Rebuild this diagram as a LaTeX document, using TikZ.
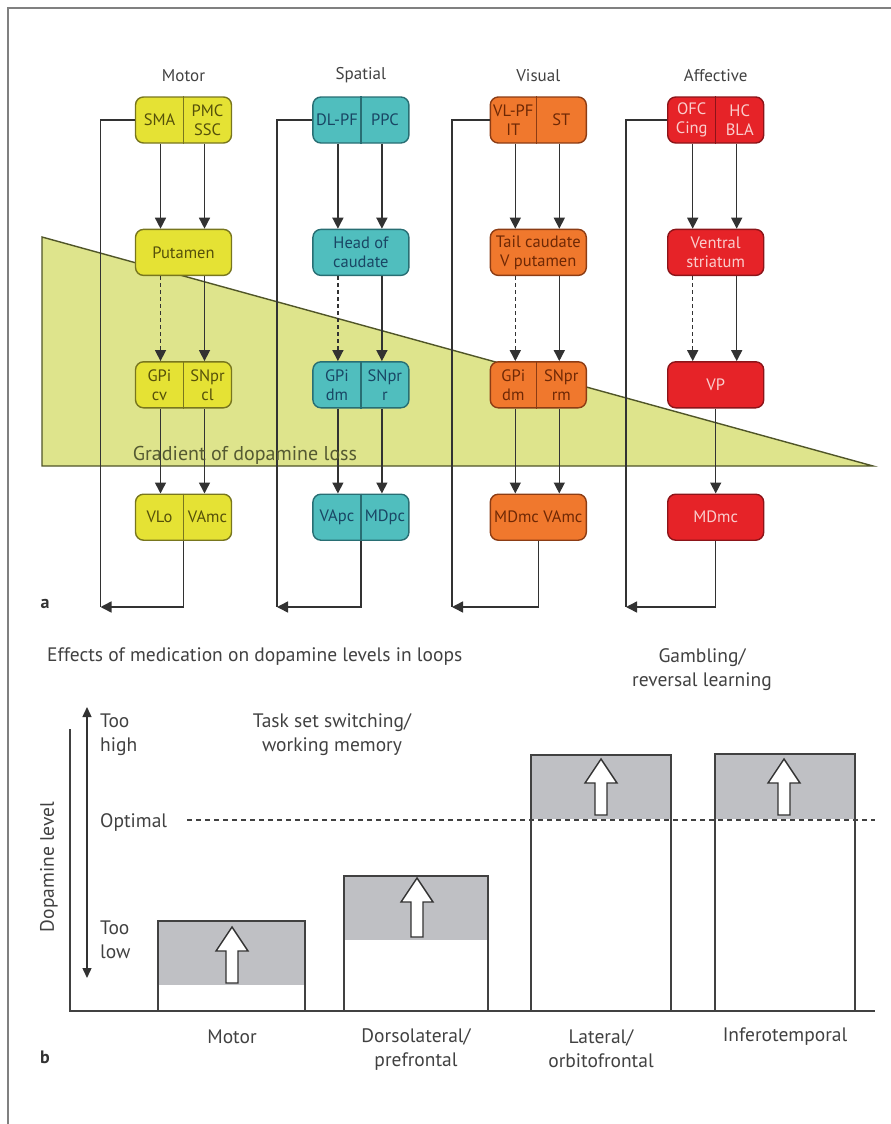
\documentclass[tikz,border=0pt]{standalone}
\usepackage{fontspec}
\setmainfont{PT Sans}
\usepackage{xcolor}
\usepackage{tikz}
\definecolor{motorFill}{RGB}{229, 226, 52}
\definecolor{motorEdge}{RGB}{120, 118, 30}
\definecolor{motorText}{RGB}{85, 80, 10}
\definecolor{spatFill}{RGB}{80, 190, 190}
\definecolor{spatEdge}{RGB}{40, 110, 115}
\definecolor{spatText}{RGB}{25, 70, 100}
\definecolor{visFill}{RGB}{240, 120, 45}
\definecolor{visEdge}{RGB}{140, 60, 20}
\definecolor{visText}{RGB}{110, 40, 5}
\definecolor{affFill}{RGB}{230, 35, 40}
\definecolor{affEdge}{RGB}{140, 20, 25}
\definecolor{affText}{RGB}{250, 205, 205}
\definecolor{gradFill}{RGB}{222, 228, 140}
\definecolor{gradEdge}{RGB}{80, 85, 40}
\definecolor{gradText}{RGB}{85, 90, 50}
\definecolor{barGray}{RGB}{191, 192, 196}
\definecolor{lineDark}{RGB}{50, 50, 50}
\definecolor{textGray}{RGB}{65, 65, 65}
\usetikzlibrary{arrows.meta, positioning}

\newcommand{\boxfont}{\fontsize{16.5}{19}\selectfont}
\newcommand{\labfont}{\fontsize{19.5}{24}\selectfont}
% hollow medication arrow: x, tip y, bottom y
\newcommand{\medarrow}[3]{%
    \draw[hollow] (#1-6,#3) -- (#1-6,#2+24) -- (#1-16,#2+24) -- (#1,#2)
        -- (#1+16,#2+24) -- (#1+6,#2+24) -- (#1+6,#3) -- cycle;}

\begin{document}
\begin{tikzpicture}[x=1pt, y=-1pt, node distance=85pt and 80pt,
    loopbox/.style={rectangle, rounded corners=8pt, minimum width=96pt,
        minimum height=46pt, line width=1.4pt, inner sep=0pt, align=center,
        font=\boxfont},
    motorbox/.style={loopbox, fill=motorFill, draw=motorEdge, text=motorText},
    spatbox/.style={loopbox, fill=spatFill, draw=spatEdge, text=spatText},
    visbox/.style={loopbox, fill=visFill, draw=visEdge, text=visText},
    affbox/.style={loopbox, fill=affFill, draw=affEdge, text=affText},
    boxtext/.style={inner sep=0pt, align=center, font=\boxfont},
    link/.style={line width=1.5pt, draw=lineDark,
        -{Triangle[length=11pt, width=11pt]}},
    faint/.style={link, dash pattern=on 4pt off 3pt},
    loopline/.style={line width=1.5pt, draw=lineDark},
    coltitle/.style={font=\fontsize{17}{20}\selectfont, text=textGray},
    panel/.style={font=\fontsize{18}{20}\selectfont\bfseries, text=lineDark},
    btext/.style={font=\labfont, text=textGray, inner sep=0pt},
    barline/.style={line width=1.3pt, draw=textGray},
    hollow/.style={line width=1.4pt, draw=lineDark, fill=white},
]
\useasboundingbox (0,0) rectangle (891,1124);

% frame
\draw[line width=1.6pt, draw=gray] (8,1124) -- (8,8) -- (891,8);

% gradient of dopamine loss
\draw[fill=gradFill, draw=gradEdge, line width=1.4pt]
    (42,237) -- (42,466) -- (873,466) -- cycle;

% motor loop
\node[motorbox] (m1) at (183.5,120) {};
\draw[motorEdge, line width=1.4pt] (m1.north) -- (m1.south);
\node[boxtext, text=motorText] (m1a) at ([xshift=-24pt]m1.center) {SMA};
\node[boxtext, text=motorText] (m1b) at ([xshift=24pt]m1.center) {PMC\\SSC};
\node[motorbox, below=of m1] (m2) {Putamen};
\node[motorbox, below=of m2] (m3) {};
\draw[motorEdge, line width=1.4pt] (m3.north) -- (m3.south);
\node[boxtext, text=motorText] (m3a) at ([xshift=-24pt]m3.center) {GPi\\cv};
\node[boxtext, text=motorText] (m3b) at ([xshift=24pt]m3.center) {SNpr\\cl};
\node[motorbox, below=of m3] (m4) {};
\draw[motorEdge, line width=1.4pt] (m4.north) -- (m4.south);
\node[boxtext, text=motorText] (m4a) at ([xshift=-24pt]m4.center) {VLo};
\node[boxtext, text=motorText] (m4b) at ([xshift=24pt]m4.center) {VAmc};

% spatial loop
\node[spatbox, right=of m1] (s1) {};
\draw[spatEdge, line width=1.4pt] (s1.north) -- (s1.south);
\node[boxtext, text=spatText] (s1a) at ([xshift=-24pt]s1.center) {DL-PF};
\node[boxtext, text=spatText] (s1b) at ([xshift=24pt]s1.center) {PPC};
\node[spatbox, below=of s1] (s2) {Head of\\caudate};
\node[spatbox, below=of s2] (s3) {};
\draw[spatEdge, line width=1.4pt] (s3.north) -- (s3.south);
\node[boxtext, text=spatText] (s3a) at ([xshift=-24pt]s3.center) {GPi\\dm};
\node[boxtext, text=spatText] (s3b) at ([xshift=24pt]s3.center) {SNpr\\r};
\node[spatbox, below=of s3] (s4) {};
\draw[spatEdge, line width=1.4pt] (s4.north) -- (s4.south);
\node[boxtext, text=spatText] (s4a) at ([xshift=-24pt]s4.center) {VApc};
\node[boxtext, text=spatText] (s4b) at ([xshift=24pt]s4.center) {MDpc};

% visual loop
\node[visbox, right=of s1] (v1) {};
\draw[visEdge, line width=1.4pt] ([xshift=-2pt]v1.north) -- ([xshift=-2pt]v1.south);
\node[boxtext, text=visText] (v1a) at ([xshift=-25pt]v1.center) {VL-PF\\IT};
\node[boxtext, text=visText] (v1b) at ([xshift=23pt]v1.center) {ST};
\node[visbox, below=of v1] (v2) {Tail caudate\\V putamen};
\node[visbox, below=of v2] (v3) {};
\draw[visEdge, line width=1.4pt] ([xshift=-2pt]v3.north) -- ([xshift=-2pt]v3.south);
\node[boxtext, text=visText] (v3a) at ([xshift=-25pt]v3.center) {GPi\\dm};
\node[boxtext, text=visText] (v3b) at ([xshift=23pt]v3.center) {SNpr\\rm};
\node[visbox, below=of v3] (v4) {MDmc VAmc};

% affective loop
\node[affbox, right=of v1] (a1) {};
\draw[affEdge, line width=1.4pt] (a1.north) -- (a1.south);
\node[boxtext, text=affText] (a1a) at ([xshift=-24pt]a1.center) {OFC\\Cing};
\node[boxtext, text=affText] (a1b) at ([xshift=24pt]a1.center) {HC\\BLA};
\node[affbox, below=of a1] (a2) {Ventral\\striatum};
\node[affbox, below=of a2] (a3) {VP};
\node[affbox, below=of a3] (a4) {MDmc};

% column titles
\node[coltitle] (t1) at ([yshift=21pt]m1.north) {Motor};
\node[coltitle] (t2) at ([yshift=21pt]s1.north) {Spatial};
\node[coltitle] (t3) at ([yshift=21pt]v1.north) {Visual};
\node[coltitle] (t4) at ([yshift=21pt]a1.north) {Affective};

% motor connections
\draw[link] ([xshift=-23pt]m1.south) -- ([xshift=-23pt]m2.north);
\draw[link] ([xshift=21pt]m1.south) -- ([xshift=21pt]m2.north);
\draw[faint] ([xshift=-23pt]m2.south) -- ([xshift=-23pt]m3.north);
\draw[link] ([xshift=21pt]m2.south) -- ([xshift=21pt]m3.north);
\draw[link] ([xshift=-23pt]m3.south) -- ([xshift=-23pt]m4.north);
\draw[link] ([xshift=21pt]m3.south) -- ([xshift=21pt]m4.north);
\coordinate (mret) at (100.5,607);
\draw[loopline] (m1.west) -| (mret);
\draw[link] (m4.south) |- (mret);

% spatial connections
\draw[link] ([xshift=-23pt]s1.south) -- ([xshift=-23pt]s2.north);
\draw[link] ([xshift=21pt]s1.south) -- ([xshift=21pt]s2.north);
\draw[faint] ([xshift=-23pt]s2.south) -- ([xshift=-23pt]s3.north);
\draw[link] ([xshift=21pt]s2.south) -- ([xshift=21pt]s3.north);
\draw[link] ([xshift=-23pt]s3.south) -- ([xshift=-23pt]s4.north);
\draw[link] ([xshift=21pt]s3.south) -- ([xshift=21pt]s4.north);
\coordinate (sret) at (277,607);
\draw[loopline] (s1.west) -| (sret);
\draw[link] (s4.south) |- (sret);

% visual connections
\draw[link] ([xshift=-23pt]v1.south) -- ([xshift=-23pt]v2.north);
\draw[link] ([xshift=21pt]v1.south) -- ([xshift=21pt]v2.north);
\draw[faint] ([xshift=-23pt]v2.south) -- ([xshift=-23pt]v3.north);
\draw[link] ([xshift=21pt]v2.south) -- ([xshift=21pt]v3.north);
\draw[link] ([xshift=-23pt]v3.south) -- ([xshift=-23pt]v4.north);
\draw[link] ([xshift=21pt]v3.south) -- ([xshift=21pt]v4.north);
\coordinate (vret) at (452,607);
\draw[loopline] (v1.west) -| (vret);
\draw[link] (v4.south) |- (vret);

% affective connections
\draw[link] ([xshift=-23pt]a1.south) -- ([xshift=-23pt]a2.north);
\draw[link] ([xshift=21pt]a1.south) -- ([xshift=21pt]a2.north);
\draw[faint] ([xshift=-23pt]a2.south) -- ([xshift=-23pt]a3.north);
\draw[link] ([xshift=21pt]a2.south) -- ([xshift=21pt]a3.north);
\draw[link] (a3.south) -- (a4.north);
\coordinate (aret) at (626,607);
\draw[loopline] (a1.west) -| (aret);
\draw[link] (a4.south) |- (aret);

\node[font=\fontsize{20}{22}\selectfont, text=gradText] (grad) at (245,455)
    {Gradient of dopamine loss};
\node[panel] (pa) at (45,604) {a};

% panel b
\node[btext, anchor=west] (hdr) at (47,657)
    {Effects of medication on dopamine levels in loops};
\node[btext, align=center] (gam) at (702,670) {Gambling/\\reversal learning};
\node[btext, align=center] (tsw) at (332,735)
    {Task set switching/\\working memory};
\node[btext, align=left, anchor=west] (hi) at (100,735) {Too\\high};
\node[btext, anchor=west] (opt) at (100,822) {Optimal};
\node[btext, align=left, anchor=west] (lo) at (100,940) {Too\\low};
\node[btext, rotate=90] (dl) at (49,867) {Dopamine level};

\fill[barGray] (158,921) rectangle (305,985);
\draw[barline] (158,1011) -- (158,921) -- (305,921) -- (305,1011);
\medarrow{232}{927}{983}
\fill[barGray] (344,876) rectangle (488,940);
\draw[barline] (344,1011) -- (344,876) -- (488,876) -- (488,1011);
\medarrow{417}{878}{937}
\fill[barGray] (531,755) rectangle (671,819);
\draw[barline] (531,1011) -- (531,755) -- (671,755) -- (671,1011);
\medarrow{601}{759}{815}
\fill[barGray] (715,754) rectangle (855,819);
\draw[barline] (715,1011) -- (715,754) -- (855,754) -- (855,1011);
\medarrow{784}{759}{815}

\draw[line width=1.3pt, draw=textGray, dash pattern=on 5pt off 4pt]
    (187,820) -- (875,820);
\draw[line width=1.3pt, draw=textGray] (70,729) -- (70,1011) -- (875,1011);
\draw[line width=1.4pt, draw=lineDark,
    {Triangle[length=10pt, width=9pt]}-{Triangle[length=10pt, width=9pt]}]
    (87,707) -- (87,978);

\node[btext] (xm) at (232,1037) {Motor};
\node[btext, align=center] (xd) at (416,1049) {Dorsolateral/\\prefrontal};
\node[btext, align=center] (xl) at (601,1049) {Lateral/\\orbitofrontal};
\node[btext] (xi) at (785,1037) {Inferotemporal};
\node[panel] (pb) at (45,1057) {b};
\end{tikzpicture}
\end{document}
